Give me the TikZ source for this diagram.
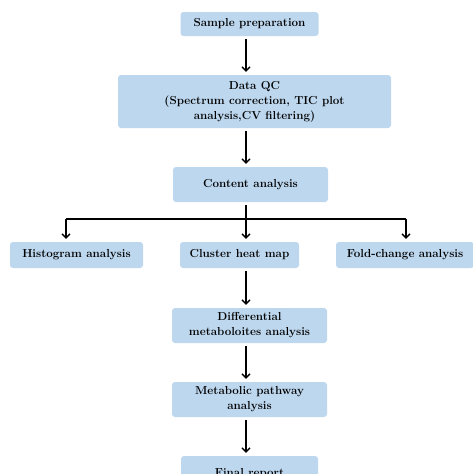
\documentclass[tikz,border=0pt]{standalone}
\usetikzlibrary{arrows.meta}
\definecolor{boxblue}{HTML}{BDD7EE}
\begin{document}
\begin{tikzpicture}[x=1pt,y=-1pt,
  box/.style={fill=boxblue,rounded corners=3pt,inner sep=0pt,align=center,
    font=\fontsize{11.6}{15}\selectfont\bfseries},
  flow/.style={line width=1.4pt,-{Straight Barb[length=4pt,width=8pt,line width=1.4pt]},
    shorten >=3pt,shorten <=3pt}]
\useasboundingbox (0,0) rectangle (473,474);
\node[box,minimum width=138pt,minimum height=24pt] (sample) at (249.5,24) {Sample preparation};
\node[box,minimum width=273pt,minimum height=53pt] (qc) at (254.5,101.5) {Data QC\\(Spectrum correction, TIC plot\\analysis,CV filtering)};
\node[box,minimum width=155pt,minimum height=35pt] (content) at (250.5,184.5) {Content analysis};
\node[box,minimum width=133pt,minimum height=26pt] (hist) at (76.5,255) {Histogram analysis};
\node[box,minimum width=119pt,minimum height=26pt] (cluster) at (239.5,255) {Cluster heat map};
\node[box,minimum width=138pt,minimum height=26pt] (fold) at (405,255) {Fold-change analysis};
\node[box,minimum width=155pt,minimum height=35pt] (diff) at (249.5,325.5) {Differential\\metaboloites analysis};
\node[box,minimum width=155pt,minimum height=35pt] (path) at (249.5,399.5) {Metabolic pathway\\analysis};
\node[box,minimum width=137pt,minimum height=32pt,text depth=0pt] (final) at (249.5,472) {Final report};
\coordinate (col) at (246,0);
\coordinate (hx) at (66,0);
\coordinate (fx) at (406,0);
\coordinate (bus) at (246,219);
\draw[flow] (sample.south -| col) -- (qc.north -| col);
\draw[flow] (qc.south -| col) -- (content.north -| col);
\draw[line width=1.4pt,shorten <=3pt] (content.south -| col) -- (bus);
\draw[line width=1.4pt] (bus -| hx) -- (bus -| fx);
\draw[flow,shorten <=0pt] (bus -| hx) -- (hist.north -| hx);
\draw[flow,shorten <=0pt] (bus) -- (cluster.north -| col);
\draw[flow,shorten <=0pt] (bus -| fx) -- (fold.north -| fx);
\draw[flow] (cluster.south -| col) -- (diff.north -| col);
\draw[flow] (diff.south -| col) -- (path.north -| col);
\draw[flow] (path.south -| col) -- (final.north -| col);
\end{tikzpicture}
\end{document}
